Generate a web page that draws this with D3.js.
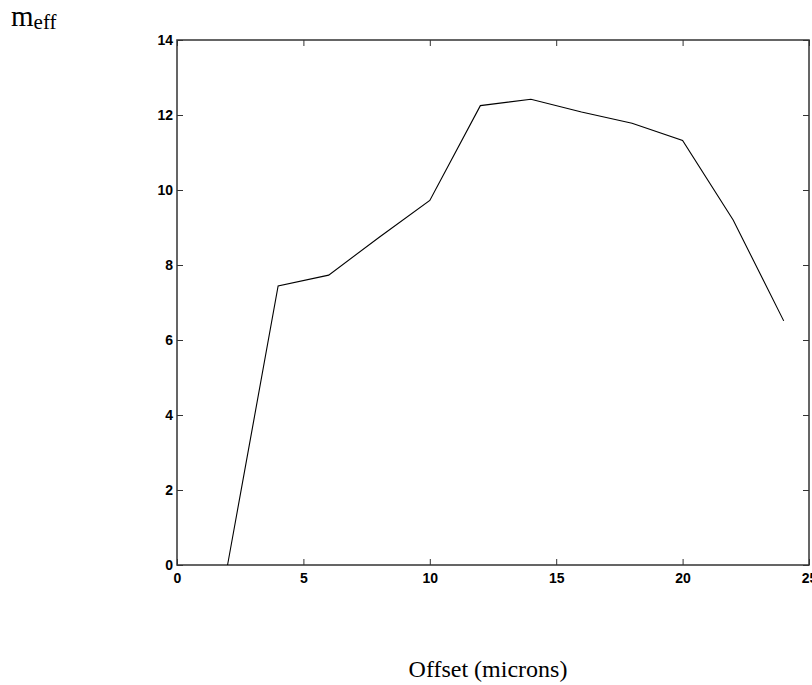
<!DOCTYPE html>
<html>
<head>
  <meta charset="UTF-8">
  <script src="https://d3js.org/d3.v7.min.js"></script>
  <style>
    body { margin: 0; background: #fff; }
    .tick text { font-family: "Liberation Sans", Arial, sans-serif; font-size: 14px; font-weight: bold; fill: #000; }
  </style>
</head>
<body>
<script>
// data
var offsets = [2, 4, 6, 8, 10, 12, 14, 16, 18, 20, 22, 24];
var meff = [0, 7.44, 7.73, 8.74, 9.72, 12.25, 12.42, 12.08, 11.78, 11.32, 9.2, 6.51];
var xTicks = [0, 5, 10, 15, 20, 25];
var yTicks = [0, 2, 4, 6, 8, 10, 12, 14];

var W = 812, H = 685;
var margin = { top: 40, right: 3, bottom: 120, left: 177 };
var width = W - margin.left - margin.right,
    height = H - margin.top - margin.bottom;

var svg = d3.select('body').append('svg')
  .attr('width', W).attr('height', H);

var g = svg.append('g')
  .attr('transform', 'translate(' + margin.left + ',' + margin.top + ')');

var x = d3.scaleLinear().domain([0, 25]).range([0, width]);
var y = d3.scaleLinear().domain([0, 14]).range([height, 0]);

var axisColor = '#333';

// box
g.append('rect')
  .attr('x', 0).attr('y', 0)
  .attr('width', width).attr('height', height)
  .attr('fill', 'none').attr('stroke', axisColor).attr('stroke-width', 1.5);

// bottom axis, ticks pointing in
var xAxis = g.append('g')
  .attr('transform', 'translate(0,' + height + ')')
  .call(d3.axisBottom(x).tickValues(xTicks).tickSize(-6).tickPadding(8));
xAxis.select('.domain').remove();
xAxis.selectAll('line').attr('stroke', axisColor);

// top ticks
var xTop = g.append('g')
  .call(d3.axisTop(x).tickValues(xTicks).tickSize(-6).tickFormat(''));
xTop.select('.domain').remove();
xTop.selectAll('line').attr('stroke', axisColor);

// left axis
var yAxis = g.append('g')
  .call(d3.axisLeft(y).tickValues(yTicks).tickSize(-6).tickPadding(4));
yAxis.select('.domain').remove();
yAxis.selectAll('line').attr('stroke', axisColor);

// right ticks
var yRight = g.append('g')
  .attr('transform', 'translate(' + width + ',0)')
  .call(d3.axisRight(y).tickValues(yTicks).tickSize(-6).tickFormat(''));
yRight.select('.domain').remove();
yRight.selectAll('line').attr('stroke', axisColor);

// the curve
var line = d3.line()
  .x(function (d, i) { return x(offsets[i]); })
  .y(function (d) { return y(d); });

g.append('path')
  .datum(meff)
  .attr('d', line)
  .attr('fill', 'none')
  .attr('stroke', '#000')
  .attr('stroke-width', 1.1);

// y label: m with subscript eff
var yl = svg.append('text')
  .attr('x', 11).attr('y', 26)
  .style('font-family', '"Liberation Serif", "Times New Roman", serif')
  .style('font-size', '29px')
  .style('fill', '#000');
yl.append('tspan').text('m');
yl.append('tspan').attr('dy', 3).style('font-size', '21px').text('eff');

// x label
svg.append('text')
  .attr('x', 488).attr('y', 677)
  .style('text-anchor', 'middle')
  .style('font-family', '"Liberation Serif", "Times New Roman", serif')
  .style('font-size', '24px')
  .style('fill', '#000')
  .text('Offset (microns)');
</script>
</body>
</html>
